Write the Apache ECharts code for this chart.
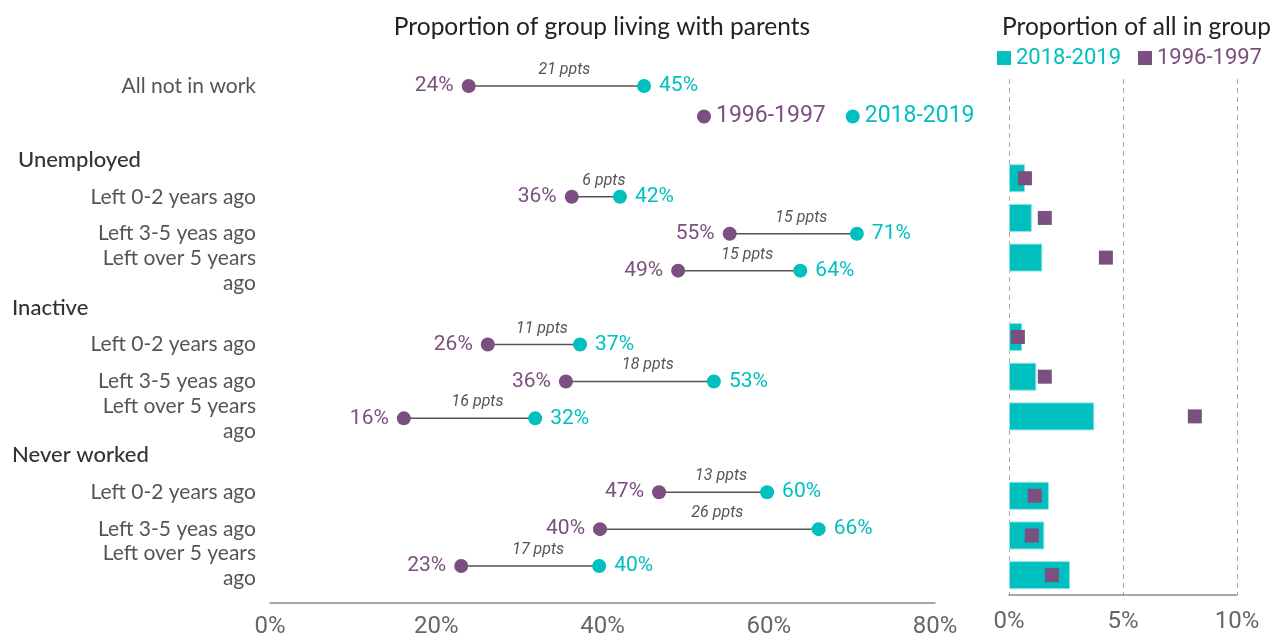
<!DOCTYPE html>
<html>
<head>
<meta charset="utf-8">
<script src="https://cdn.jsdelivr.net/npm/echarts@6/dist/echarts.min.js"></script>
<style>
  html, body { margin: 0; padding: 0; background: #fff; }
  #chart { width: 1278px; height: 642px; }
</style>
</head>
<body>
<div id="chart"></div>
<script>
// row labels of the left panel (top to bottom), '' = spacer rows
const rowLabels = ['All not in work', '', 'Unemployed', 'Left 0-2 years ago', 'Left 3-5 yeas ago', 'Left over 5 years\nago',
  'Inactive', 'Left 0-2 years ago', 'Left 3-5 yeas ago', 'Left over 5 years\nago',
  'Never worked', 'Left 0-2 years ago', 'Left 3-5 yeas ago', 'Left over 5 years\nago', '']
const headerRows = ['Unemployed', 'Inactive', 'Never worked']

// proportion living with parents (%), null = no dumbbell on that row
const parents1996 = [23.9, null, null, 36.3, 55.3, 49.1, null, 26.2, 35.6, 16.1, null, 46.8, 39.7, 23.0, null]
const parents2018 = [45.0, null, null, 42.1, 70.6, 63.8, null, 37.3, 53.4, 31.9, null, 59.8, 66.0, 39.6, null]
const pptsLabels = ['21 ppts', '', '', '6 ppts', '15 ppts', '15 ppts', '', '11 ppts', '18 ppts', '16 ppts', '', '13 ppts', '26 ppts', '17 ppts', '']

// right panel: proportion of all in group (%)
const shareCats = ['', '', 'U 0-2', 'U 3-5', 'U 5+', '', 'I 0-2', 'I 3-5', 'I 5+', '', 'N 0-2', 'N 3-5', 'N 5+']
const share2018 = ['-', '-', 0.7, 1.0, 1.46, '-', 0.58, 1.2, 3.74, '-', 1.75, 1.55, 2.68]
const share1996 = ['-', '-', 0.7, 1.57, 4.25, '-', 0.39, 1.57, 8.15, '-', 1.13, 1.0, 1.88]

const leftTicks = [0, 20, 40, 60, 80]
const rightTicks = [0, 5, 10]

const PURPLE = '#7b4f7f'
const TEAL = '#00bfbf'
const LABEL_FONT = 'Lato, "Open Sans", sans-serif'
const NUM_FONT = 'Roboto, sans-serif'

let myChart = echarts.init(document.getElementById('chart'))

const toPairs = (arr) => arr.map((v, i) => (v === null ? null : [v, i])).filter((d) => d)

const dumbbellData = parents1996
  .map((v, i) => (v === null ? null : [v, parents2018[i], i, pptsLabels[i]]))
  .filter((d) => d)

const option = {
  animation: false,
  title: [
    {
      text: 'Proportion of group living with parents',
      left: 602,
      textAlign: 'center',
      top: 15,
      padding: 0,
      textStyle: { fontFamily: LABEL_FONT, fontWeight: 'normal', fontSize: 24.5, color: '#222' }
    },
    {
      text: 'Proportion of all in group',
      left: 1002,
      top: 15,
      padding: 0,
      textStyle: { fontFamily: LABEL_FONT, fontWeight: 'normal', fontSize: 24.5, color: '#222' }
    }
  ],
  legend: [
    {
      left: 697,
      top: 105,
      padding: 0,
      icon: 'circle',
      itemWidth: 14,
      itemHeight: 14,
      itemGap: 20,
      selectedMode: false,
      data: [
        { name: '1996-1997', textStyle: { color: PURPLE } },
        { name: '2018-2019', textStyle: { color: TEAL } }
      ],
      textStyle: { fontFamily: NUM_FONT, fontSize: 23 }
    },
    {
      left: 997,
      top: 47,
      width: 300,
      padding: 0,
      orient: 'horizontal',
      icon: 'rect',
      itemWidth: 14,
      itemHeight: 14,
      itemGap: 17,
      selectedMode: false,
      data: [
        { name: '2018-2019', textStyle: { color: TEAL } },
        { name: '1996-1997', textStyle: { color: PURPLE } }
      ],
      textStyle: { fontFamily: NUM_FONT, fontSize: 22 }
    }
  ],
  grid: [
    { left: 270, right: 343, top: 86, height: 517 },
    { left: 1009, right: 41, top: 79, height: 516 }
  ],
  xAxis: [
    {
      gridIndex: 0,
      type: 'value',
      min: leftTicks[0],
      max: leftTicks[leftTicks.length - 1],
      interval: 20,
      axisLine: { show: true, lineStyle: { color: '#8a8a8a', width: 1.5 } },
      axisTick: { show: false },
      splitLine: { show: false },
      axisLabel: { formatter: '{value}%', color: '#666', fontSize: 24, fontFamily: NUM_FONT, margin: 12 }
    },
    {
      gridIndex: 1,
      type: 'value',
      min: rightTicks[0],
      max: rightTicks[rightTicks.length - 1],
      interval: 5,
      axisLine: { show: true, lineStyle: { color: '#8a8a8a', width: 1.5 } },
      axisTick: { show: false },
      splitLine: { show: true, lineStyle: { color: '#aaa', type: [5, 4], width: 1 } },
      axisLabel: { formatter: '{value}%', color: '#666', fontSize: 24, fontFamily: NUM_FONT, margin: 15 }
    }
  ],
  yAxis: [
    {
      gridIndex: 0,
      type: 'category',
      inverse: true,
      boundaryGap: false,
      data: rowLabels,
      axisLine: { show: false },
      axisTick: { show: false },
      splitLine: { show: false },
      axisLabel: {
        interval: 0,
        margin: 14,
        color: '#555',
        fontSize: 21,
        fontFamily: LABEL_FONT,
        lineHeight: 25,
        formatter: (val) => {
          if (val === 'Unemployed') return '{h1|' + val + '}'
          if (headerRows.indexOf(val) >= 0) return '{h|' + val + '}'
          return val
        },
        rich: {
          h1: { width: 238, align: 'left', color: '#333', fontSize: 22, fontWeight: 500, fontFamily: LABEL_FONT },
          h: { width: 244, align: 'left', color: '#333', fontSize: 22, fontWeight: 500, fontFamily: LABEL_FONT }
        }
      }
    },
    {
      gridIndex: 1,
      type: 'category',
      inverse: true,
      data: shareCats,
      axisLine: { show: false },
      axisTick: { show: false },
      axisLabel: { show: false },
      splitLine: { show: false }
    }
  ],
  series: [
    {
      // connector lines + ppts difference
      type: 'custom',
      xAxisIndex: 0,
      yAxisIndex: 0,
      z: 1,
      data: dumbbellData,
      renderItem: (params, api) => {
        const p1 = api.coord([api.value(0), api.value(2)])
        const p2 = api.coord([api.value(1), api.value(2)])
        const txt = dumbbellData[params.dataIndex][3]
        return {
          type: 'group',
          children: [
            {
              type: 'line',
              shape: { x1: p1[0], y1: p1[1], x2: p2[0], y2: p2[1] },
              style: { stroke: '#555', lineWidth: 1.5 }
            },
            {
              type: 'text',
              x: (p1[0] + p2[0]) / 2 + 8,
              y: p1[1] - 16,
              style: {
                text: txt,
                align: 'center',
                verticalAlign: 'middle',
                fill: '#555',
                fontSize: 16,
                fontStyle: 'italic',
                fontFamily: NUM_FONT
              }
            }
          ]
        }
      }
    },
    {
      name: '1996-1997',
      type: 'scatter',
      xAxisIndex: 0,
      yAxisIndex: 0,
      z: 3,
      symbolSize: 14,
      itemStyle: { color: PURPLE, opacity: 1 },
      data: toPairs(parents1996),
      label: {
        show: true,
        position: 'left',
        distance: 8,
        color: PURPLE,
        fontSize: 21,
        fontFamily: NUM_FONT,
        formatter: (p) => Math.round(p.value[0]) + '%'
      }
    },
    {
      name: '2018-2019',
      type: 'scatter',
      xAxisIndex: 0,
      yAxisIndex: 0,
      z: 3,
      symbolSize: 14,
      itemStyle: { color: TEAL, opacity: 1 },
      data: toPairs(parents2018),
      label: {
        show: true,
        position: 'right',
        distance: 8,
        color: TEAL,
        fontSize: 21,
        fontFamily: NUM_FONT,
        formatter: (p) => Math.round(p.value[0]) + '%'
      }
    },
    {
      name: '2018-2019',
      type: 'bar',
      xAxisIndex: 1,
      yAxisIndex: 1,
      barWidth: 28,
      z: 2,
      itemStyle: { color: TEAL, borderColor: '#8fe3e3', borderWidth: 1 },
      data: share2018
    },
    {
      name: '1996-1997',
      type: 'scatter',
      xAxisIndex: 1,
      yAxisIndex: 1,
      symbol: 'rect',
      symbolSize: 14,
      z: 4,
      itemStyle: { color: PURPLE, opacity: 1 },
      data: share1996
    }
  ]
}

myChart.setOption(option)
window.addEventListener('resize', () => {
  myChart.resize()
})
</script>
</body>
</html>
